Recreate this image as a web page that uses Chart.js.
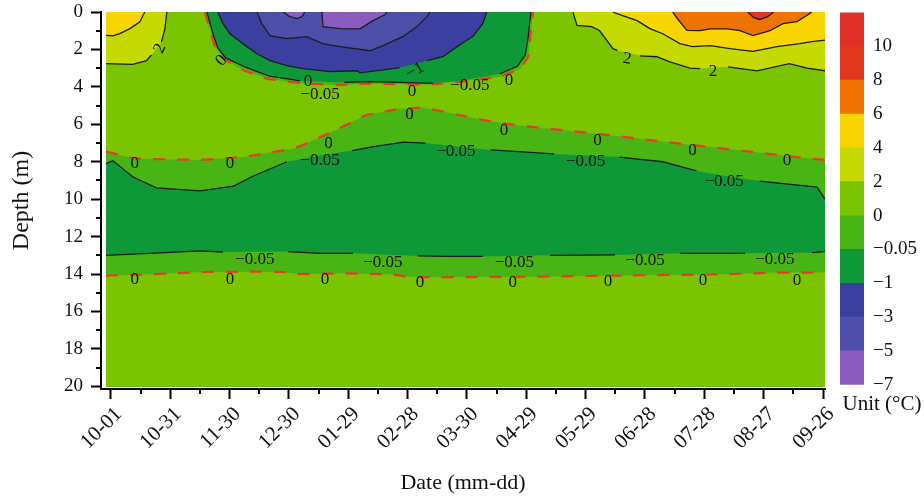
<!DOCTYPE html>
<html>
<head>
<meta charset="utf-8">
<script src="https://cdn.jsdelivr.net/npm/chart.js@4"></script>
<style>
  body { margin: 0; background: #fff; }
  #wrap { position: relative; width: 924px; height: 502px; }
  canvas { position: absolute; top: 0; }
</style>
</head>
<body>
<div id="wrap">
  <canvas id="main" width="924" height="502" style="left:0"></canvas>
  <canvas id="bar" width="94" height="420" style="left:830px"></canvas>
</div>
<script>
// x = days since 10-01, y = depth (m)
const DATE_TICKS = ['10-01', '10-31', '11-30', '12-30', '01-29', '02-28', '03-30', '04-29', '05-29', '06-28', '07-28', '08-27', '09-26'];
const PLOT_DAYS = [-2.5, 361];
const MAX_DEPTH = 20;

// contour lines, [day, depth]
const MID_ZERO = [[-2.5, 7.45], [11, 7.8], [18, 7.85], [45, 7.9], [67, 7.75], [79, 7.53], [92, 7.3], [97, 7.1], [112, 6.4], [129, 5.5], [146, 5.17], [158, 5.1], [176, 5.5], [190, 5.8], [207, 6.08], [254, 6.6], [281, 6.95], [314, 7.35], [355, 7.85], [361, 7.9]];
const MID_NEG005 = [[-2.5, 8.1], [1, 7.95], [11, 8.8], [23, 9.4], [45, 9.56], [62, 9.3], [72, 8.76], [89, 8.0], [106, 7.65], [122, 7.4], [132, 7.2], [148, 6.95], [159, 7.0], [176, 7.2], [192, 7.37], [224, 7.58], [257, 7.75], [279, 8.0], [296, 8.49], [313, 8.8], [328, 9.03], [357, 9.35], [361, 10.0]];
const MID_NEG005_GAPS = [[89, 122], [159, 192], [224, 257], [296, 328]];
const DEEP_NEG005 = [[-2.5, 13.0], [19.7, 12.9], [45, 12.76], [56.6, 12.82], [89.5, 12.8], [105.7, 12.89], [122.3, 12.89], [155.2, 13.03], [170, 13.06], [188, 13.06], [222, 13.0], [254.8, 12.98], [287.7, 12.89], [320.5, 12.89], [354.4, 12.85], [361, 12.8]];
const DEEP_NEG005_GAPS = [[56.6, 89.5], [122.3, 155.2], [188, 222], [254.8, 287.7], [320.5, 354.4]];
const DEEP_ZERO = [[-2.5, 14.08], [21, 14.01], [46.5, 13.89], [71.8, 13.87], [87, 13.89], [95.6, 14.0], [119.3, 13.96], [142.6, 14.02], [151.2, 14.16], [166.3, 14.17], [181.5, 14.16], [215.4, 14.14], [263.9, 14.07], [311.4, 14.01], [336.7, 13.92], [361, 13.92]];

const COLD_ZERO = [[47.5, 0], [51, 1.3], [52.6, 1.85], [56.6, 2.5], [66.7, 3.1], [78.9, 3.57], [90.5, 3.73], [99, 3.83], [117, 3.9], [131, 3.83], [160, 3.89], [176, 3.73], [197, 3.46], [207, 3.03], [211, 2.4], [212, 1.3], [213.4, 0]];
const COLD_NEG005 = [[48.5, 0], [52, 1.3], [54, 1.9], [58, 2.45], [68, 2.95], [80, 3.42], [91, 3.6], [95.5, 3.68], [118, 3.76], [131, 3.72], [160, 3.8], [162.8, 3.8], [176, 3.68], [196.7, 3.3], [205.5, 2.9], [209.5, 2.3], [211, 1.3], [212.3, 0]];
const COLD_NEG005_GAPS = [[95.5, 118], [162.8, 196.7]];
const COLD_NEG1 = [[54.1, 0], [56.6, 0.62], [60.2, 1.16], [66.7, 1.69], [73.8, 2.23], [80.4, 2.6], [89, 2.87], [97, 3.03], [110.7, 3.19], [124.4, 3.14], [125.9, 3.25], [142.6, 3.03], [146, 2.97], [149.6, 2.87], [159.8, 2.6], [167.8, 2.39], [175, 1.85], [183, 1.3], [188, 0.62], [190, 0]];
const COLD_NEG1_GAPS = [[146, 159.8]];
const COLD_NEG3 = [[73.8, 0], [76.3, 0.62], [80.4, 1.26], [89, 1.42], [99, 1.32], [107, 1.69], [115.8, 1.85], [131, 2.07], [137.5, 1.8], [147.6, 1.32], [154.7, 0.78], [159.8, 0.25], [161.3, 0]];
const COLD_NEG5_A = [[87, 0], [90.5, 0.25], [94, 0.35], [96.6, 0.25], [98, 0]];
const COLD_NEG5_B = [[106.7, 0], [107.2, 0.78], [115.8, 0.89], [125.9, 0.9], [132.5, 0.46], [138.5, 0.15], [139.5, 0]];

const WARM_LEFT_2 = [[-2.5, 2.76], [11, 2.8], [18, 2.6], [20.5, 2.3], [23, 1.96], [25.5, 1.6], [26, 1.43], [27.3, 0.9], [28.3, 0]];
const WARM_LEFT_2_GAPS = [[20.5, 25.5]];
const WARM_LEFT_4 = [[-2.5, 1.25], [1, 1.27], [4.5, 1.15], [9.6, 0.89], [14.7, 0.52], [16.2, 0.19], [17.2, 0]];
const WARM_RIGHT_2 = [[233.6, 0], [235.6, 0.72], [243, 0.78], [247, 0.99], [253.8, 1.96], [256, 2.05], [267.4, 2.34], [276, 2.39], [282.6, 2.66], [292.7, 3.0], [297.8, 3.02], [312, 2.93], [326.6, 3.14], [343, 2.76], [351.9, 3.0], [361, 3.14]];
const WARM_RIGHT_2_GAPS = [[256, 267.4], [297.8, 312]];
const WARM_RIGHT_4 = [[253.8, 0], [255.8, 0.09], [266, 0.46], [272.5, 0.89], [279, 1.16], [287.6, 1.69], [294, 1.85], [303, 1.8], [313, 1.96], [324.6, 2.1], [336.7, 1.85], [348.3, 1.69], [353.4, 1.6], [361, 1.5]];
const WARM_RIGHT_6 = [[284, 0], [286.7, 0.4], [291.2, 0.98], [297.8, 1.0], [303, 0.9], [311.4, 0.9], [318, 1.0], [324.6, 1.26], [333.2, 1.0], [339.8, 0.62], [346.8, 0.51], [350.8, 0.25], [354.4, 0]];
const WARM_RIGHT_8 = [[322, 0], [325, 0.3], [328, 0.4], [332, 0.25], [335, 0]];

// [day, depth, text, rotation deg]
const CONTOUR_LABELS = [
  [12.1, 14.3, '0', 0], [60.2, 14.3, '0', 0], [108.2, 14.3, '0', 0], [156.2, 14.45, '0', 0],
  [203.2, 14.45, '0', 0], [251.3, 14.4, '0', 0], [299.3, 14.35, '0', 0], [346.8, 14.35, '0', 0],
  [72.8, 13.25, '−0.05', 0], [137.5, 13.4, '−0.05', 0], [204, 13.37, '−0.05', 0], [270, 13.26, '−0.05', 0], [335.7, 13.2, '−0.05', 0],
  [105.7, 7.96, '−0.05', 0], [174.4, 7.48, '−0.05', 0], [240, 8.0, '−0.05', 0], [310, 9.08, '−0.05', 0],
  [12.1, 8.12, '0', 0], [60.2, 8.12, '0', 0], [110, 7.0, '0', 0], [151, 5.5, '0', 0],
  [198.7, 6.35, '0', 0], [246, 6.89, '0', 0], [294, 7.4, '0', 0], [341.8, 7.96, '0', 0],
  [56, 2.6, '0', -50], [99.6, 3.73, '0', 0], [105.7, 4.42, '−0.05', 0], [153.7, 3.14, '−1', -30],
  [152.2, 4.26, '0', 0], [181.5, 3.94, '−0.05', 0], [201.2, 3.67, '0', 0],
  [24.8, 1.95, '2', -65], [260.9, 2.5, '2', 8], [304.4, 3.2, '2', 0]
];

// colour bar, bottom to top
const BAND_COLORS = ['#8B5CBF', '#4E4EAB', '#3B3FA0', '#0F9838', '#49B515', '#7BC500', '#C4DA00', '#F8D500', '#EF7303', '#DF381F', '#E0302A'];
const BAND_TICKS = ['−7', '−5', '−3', '−1', '−0.05', '0', '2', '4', '6', '8', '10', ''];

const C = {
  neg7: BAND_COLORS[0], neg5: BAND_COLORS[1], neg3: BAND_COLORS[2], neg1: BAND_COLORS[3],
  neg005: BAND_COLORS[4], zero: BAND_COLORS[5], two: BAND_COLORS[6], four: BAND_COLORS[7],
  six: BAND_COLORS[8], eight: BAND_COLORS[9]
};
const RED = '#E53B2C';
const INK = '#1c1c1c';
const NONE = 'rgba(0,0,0,0)';
const SERIF = "'Liberation Serif', 'DejaVu Serif', serif";

function inGap(ctx, gaps) {
  const a = ctx.p0.parsed.x, b = ctx.p1.parsed.x;
  return gaps.some(g => a >= g[0] - 0.01 && b <= g[1] + 0.01);
}

// one filled band, plus a separate stroke when the contour line has label gaps
function layer(points, fillColor, fillTo, kind, gaps) {
  const data = points.map(p => ({ x: p[0], y: p[1] }));
  const stroke = kind === 'dash' ? RED : kind === 'solid' ? INK : NONE;
  const base = {
    data: data,
    pointRadius: 0,
    tension: 0,
    clip: 0,
    borderWidth: kind === 'dash' ? 2.2 : 1.3,
    borderDash: kind === 'dash' ? [12, 12] : []
  };
  const area = Object.assign({}, base, {
    fill: { value: fillTo },
    backgroundColor: fillColor,
    borderColor: gaps ? NONE : stroke
  });
  if (!gaps) return [area];
  const line = Object.assign({}, base, {
    fill: false,
    borderColor: stroke,
    segment: { borderColor: ctx => inGap(ctx, gaps) ? NONE : undefined }
  });
  return [area, line];
}

// painter's order: first in list is drawn first
const layers = [
  layer(PLOT_DAYS.map(d => [d, MAX_DEPTH]), C.zero, 0, 'none'),
  layer(MID_ZERO, C.neg005, MAX_DEPTH, 'dash'),
  layer(MID_NEG005, C.neg1, MAX_DEPTH, 'solid', MID_NEG005_GAPS),
  layer(DEEP_NEG005, C.neg005, MAX_DEPTH, 'solid', DEEP_NEG005_GAPS),
  layer(DEEP_ZERO, C.zero, MAX_DEPTH, 'dash'),
  layer(WARM_LEFT_2, C.two, 0, 'solid', WARM_LEFT_2_GAPS),
  layer(WARM_LEFT_4, C.four, 0, 'solid'),
  layer(COLD_ZERO, C.neg005, 0, 'dash'),
  layer(COLD_NEG005, C.neg1, 0, 'solid', COLD_NEG005_GAPS),
  layer(COLD_NEG1, C.neg3, 0, 'solid', COLD_NEG1_GAPS),
  layer(COLD_NEG3, C.neg5, 0, 'solid'),
  layer(COLD_NEG5_A, C.neg7, 0, 'solid'),
  layer(COLD_NEG5_B, C.neg7, 0, 'solid'),
  layer(WARM_RIGHT_2, C.two, 0, 'solid', WARM_RIGHT_2_GAPS),
  layer(WARM_RIGHT_4, C.four, 0, 'solid'),
  layer(WARM_RIGHT_6, C.six, 0, 'solid'),
  layer(WARM_RIGHT_8, C.eight, 0, 'solid')
].flat();
layers.forEach((ds, i) => { ds.order = layers.length - i; });

const contourLabels = {
  id: 'contourLabels',
  afterDatasetsDraw(chart) {
    const { ctx, scales: { x, y } } = chart;
    ctx.save();
    ctx.font = '17px ' + SERIF;
    ctx.fillStyle = '#111';
    ctx.textAlign = 'center';
    ctx.textBaseline = 'middle';
    CONTOUR_LABELS.forEach(([d, z, text, rot]) => {
      ctx.save();
      ctx.translate(x.getPixelForValue(d), y.getPixelForValue(z));
      ctx.rotate(rot * Math.PI / 180);
      ctx.fillText(text, 0, 0);
      ctx.restore();
    });
    ctx.restore();
  }
};

const minorTicks = {
  id: 'minorTicks',
  afterDraw(chart) {
    const { ctx, chartArea, scales: { x, y } } = chart;
    ctx.save();
    ctx.strokeStyle = '#000';
    ctx.lineWidth = 2;
    ctx.beginPath();
    for (let d = 1; d < 20; d += 2) {
      const py = Math.round(y.getPixelForValue(d));
      ctx.moveTo(chartArea.left - 5, py);
      ctx.lineTo(chartArea.left, py);
    }
    for (let t = 15; t < 360; t += 30) {
      const px = Math.round(x.getPixelForValue(t));
      ctx.moveTo(px, chartArea.bottom);
      ctx.lineTo(px, chartArea.bottom + 5);
    }
    ctx.stroke();
    ctx.restore();
  }
};

new Chart(document.getElementById('main'), {
  type: 'line',
  data: { datasets: layers },
  options: {
    responsive: false,
    animation: false,
    layout: { padding: { top: 12, right: 99, left: 0, bottom: 0 } },
    plugins: { legend: { display: false }, tooltip: { enabled: false } },
    scales: {
      x: {
        type: 'linear',
        min: -5,
        max: 361,
        afterFit: s => { s.height = 113; },
        grid: { drawOnChartArea: false, tickLength: 10, tickWidth: 2, tickColor: '#000' },
        border: { color: '#000', width: 2 },
        ticks: {
          stepSize: 30,
          includeBounds: false,
          autoSkip: false,
          maxRotation: 45,
          minRotation: 45,
          padding: 3,
          labelOffset: 8,
          color: '#111',
          font: { family: SERIF, size: 21 },
          callback: v => DATE_TICKS[Math.round(v / 30)] || ''
        },
        title: { display: true, text: 'Date (mm-dd)', color: '#111', font: { family: SERIF, size: 22 }, padding: { top: 0, bottom: 6 } }
      },
      y: {
        type: 'linear',
        reverse: true,
        min: 0,
        max: 20.14,
        afterFit: s => { s.width = 101; s.paddingTop = 0; s.paddingBottom = 0; },
        grid: { drawOnChartArea: false, tickLength: 10, tickWidth: 2, tickColor: '#000' },
        border: { color: '#000', width: 2 },
        ticks: {
          stepSize: 2,
          includeBounds: false,
          padding: 8,
          color: '#111',
          font: { family: SERIF, size: 19 }
        },
        title: { display: true, text: 'Depth (m)', color: '#111', font: { family: SERIF, size: 24 }, padding: { top: 7, bottom: 0 } }
      }
    }
  },
  plugins: [contourLabels, minorTicks]
});

new Chart(document.getElementById('bar'), {
  type: 'bar',
  data: {
    labels: [''],
    datasets: BAND_COLORS.map(c => ({ data: [1], backgroundColor: c, barPercentage: 1, categoryPercentage: 1, borderWidth: 0 }))
  },
  options: {
    responsive: false,
    animation: false,
    layout: { padding: { left: 10, top: 4, right: 0, bottom: 0 } },
    plugins: {
      legend: { display: false },
      tooltip: { enabled: false },
      title: { display: true, position: 'bottom', text: 'Unit (°C)', color: '#111', font: { family: SERIF, size: 21, weight: 'normal' }, padding: { top: 7, bottom: 3 } }
    },
    scales: {
      x: { stacked: true, display: false },
      y: {
        stacked: true,
        position: 'right',
        min: 0,
        max: 11,
        afterFit: s => { s.width = 60; },
        grid: { display: false },
        border: { display: false },
        ticks: { stepSize: 1, padding: 1, color: '#111', font: { family: SERIF, size: 19 }, callback: v => BAND_TICKS[v] }
      }
    }
  }
});
</script>
</body>
</html>
